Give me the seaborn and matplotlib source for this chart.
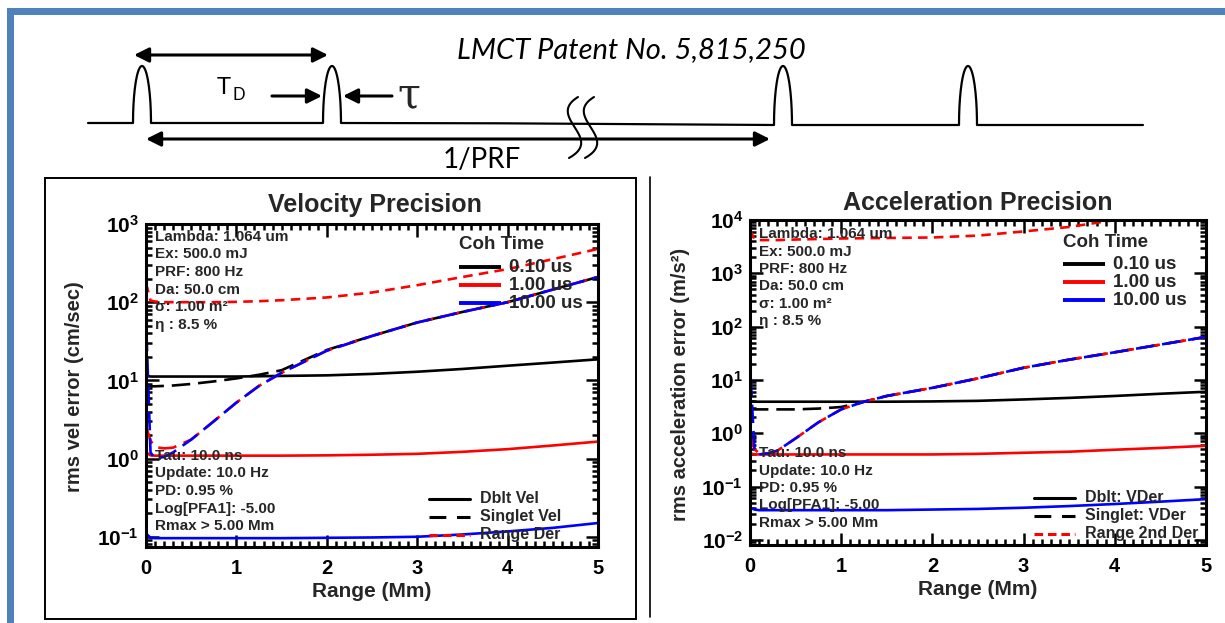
import numpy as np
import matplotlib
matplotlib.use("Agg")
import matplotlib.pyplot as plt
import seaborn as sns
from matplotlib.patches import Rectangle
from matplotlib.ticker import LogLocator, MultipleLocator, FuncFormatter, NullFormatter

# range grid (Mm)
rng = [0.0, 0.05, 0.1, 0.2, 0.3, 0.5, 0.75, 1.0, 1.25, 1.5, 2.0, 2.5, 3.0, 3.5, 4.0, 4.5, 5.0]

# velocity precision (cm/sec)
vel_dblt_01 = [11.5, 11.2, 11.2, 11.2, 11.2, 11.2, 11.2, 11.2, 11.3, 11.4, 11.6, 12.1, 12.9, 14.0, 15.4, 16.9, 18.6]
vel_dblt_1 = [1.2, 1.1, 1.09, 1.09, 1.09, 1.09, 1.09, 1.09, 1.09, 1.09, 1.1, 1.12, 1.15, 1.22, 1.32, 1.47, 1.65]
vel_dblt_10 = [0.11, 0.097, 0.096, 0.096, 0.096, 0.096, 0.096, 0.096, 0.096, 0.096, 0.097, 0.098, 0.1, 0.107, 0.117, 0.13, 0.15]
vel_sngl_01 = [9.0, 8.4, 8.4, 8.5, 8.6, 9.0, 9.7, 10.6, 11.8, 13.5, 24.5, 37, 55, 75, 100, 145, 210]
vel_sngl_1 = [2.6, 1.7, 1.4, 1.35, 1.38, 1.75, 3.0, 5.2, 8.5, 12.5, 24, 37, 55, 75, 100, 145, 210]
vel_sngl_10 = [60, 1.2, 1.0, 1.05, 1.2, 1.75, 3.0, 5.2, 8.5, 12.5, 24, 37, 55, 75, 100, 145, 210]
vel_rng_der = [175, 105, 102, 100, 100, 100, 100, 101, 103, 106, 115, 133, 165, 210, 265, 355, 480]

# acceleration precision (m/s^2)
acc_dblt_01 = [4.0, 3.9, 3.9, 3.9, 3.9, 3.9, 3.9, 3.9, 3.9, 3.9, 3.95, 4.05, 4.3, 4.6, 5.0, 5.5, 6.0]
acc_dblt_1 = [0.42, 0.40, 0.40, 0.40, 0.40, 0.40, 0.40, 0.40, 0.40, 0.40, 0.40, 0.41, 0.43, 0.45, 0.49, 0.53, 0.58]
acc_dblt_10 = [0.04, 0.037, 0.036, 0.036, 0.036, 0.036, 0.036, 0.036, 0.036, 0.036, 0.037, 0.038, 0.04, 0.043, 0.047, 0.052, 0.058]
acc_sngl_01 = [2.9, 2.8, 2.8, 2.8, 2.8, 2.8, 2.9, 3.1, 3.9, 5.0, 7.1, 10.7, 16.9, 24, 33, 46, 64]
acc_sngl_1 = [0.9, 0.5, 0.42, 0.42, 0.47, 0.8, 1.6, 2.8, 3.9, 5.0, 7.1, 10.7, 16.9, 24, 33, 46, 64]
acc_sngl_10 = [19, 0.45, 0.4, 0.42, 0.47, 0.8, 1.6, 2.8, 3.9, 5.0, 7.1, 10.7, 16.9, 24, 33, 46, 64]
acc_rng_2der = [6500, 4300, 4200, 4200, 4200, 4300, 4400, 4500, 4550, 4600, 4700, 5100, 6100, 7400, 10000, 14000, 19000]

info_top = ["Lambda: 1.064 um", "Ex: 500.0 mJ", "PRF: 800 Hz", "Da: 50.0 cm", "\u03c3: 1.00 m\u00b2", "\u03b7 : 8.5 %"]
info_bot = ["Tau: 10.0 ns", "Update: 10.0 Hz", "PD: 0.95 %", "Log[PFA1]: -5.00", "Rmax > 5.00 Mm"]
coh_labels = ["0.10 us", "1.00 us", "10.00 us"]
coh_colors = ["black", "#ff0000", "#0000ff"]
vel_styles = ["Dblt Vel", "Singlet Vel", "Range Der"]
acc_styles = ["Dblt: VDer", "Singlet: VDer", "Range 2nd Der"]

sns.set_style("ticks")
plt.rcParams["font.family"] = ["Liberation Sans", "DejaVu Sans"]
plt.rcParams["font.weight"] = "bold"
plt.rcParams["mathtext.fontset"] = "custom"
plt.rcParams["mathtext.bf"] = "Liberation Sans:bold"
plt.rcParams["mathtext.rm"] = "Liberation Sans:bold"

W, H = 1225, 623
fig = plt.figure(figsize=(12.25, 6.23), dpi=100)
fig.patch.set_facecolor("white")


def rect(x0, y0, x1, y1):
    return [x0 / W, 1 - y1 / H, (x1 - x0) / W, (y1 - y0) / H]


LONG = (0, (7, 3))
SHORT = (0, (3.6, 2.4))


def trace(ax, y, color, ls, lw=1.9):
    sns.lineplot(x=rng, y=y, ax=ax, color=color, linestyle=ls, linewidth=lw,
                 estimator=None, sort=False)


def style_axis(ax, ylo, yhi):
    ax.set_yscale("log")
    ax.set_xlim(0, 5)
    ax.set_ylim(ylo, yhi)
    ax.xaxis.set_major_locator(MultipleLocator(1))
    ax.xaxis.set_minor_locator(MultipleLocator(0.1))
    ax.yaxis.set_major_locator(LogLocator(base=10, numticks=20))
    ax.yaxis.set_minor_locator(LogLocator(base=10, subs=np.arange(2, 10), numticks=20))
    ax.yaxis.set_minor_formatter(NullFormatter())
    ax.yaxis.set_major_formatter(FuncFormatter(lambda v, p: r"$\mathbf{10^{%d}}$" % round(np.log10(v))))
    ax.tick_params(which="both", direction="in", top=True, right=True, width=1.8, colors="black")
    ax.tick_params(which="major", length=9)
    ax.tick_params(which="minor", length=4)
    ax.tick_params(axis="x", labelsize=14.5, pad=9)
    ax.tick_params(axis="y", labelsize=15, pad=5)
    for s in ax.spines.values():
        s.set_linewidth(2.2)
        s.set_color("black")
    ax.set_xlabel("")
    ax.set_ylabel("")


# velocity panel
axL = fig.add_axes(rect(146, 224, 598, 547))
trace(axL, vel_rng_der, coh_colors[1], SHORT)
trace(axL, vel_dblt_01, coh_colors[0], "-")
trace(axL, vel_sngl_01, coh_colors[0], LONG)
trace(axL, vel_dblt_1, coh_colors[1], "-")
trace(axL, vel_sngl_1, coh_colors[1], LONG)
trace(axL, vel_sngl_10, coh_colors[2], (5, (7, 3)))
trace(axL, vel_dblt_10, coh_colors[2], "-")
style_axis(axL, 0.074, 1000)

# acceleration panel
axR = fig.add_axes(rect(750, 220, 1206, 545))
trace(axR, acc_rng_2der, coh_colors[1], SHORT)
trace(axR, acc_dblt_01, coh_colors[0], "-")
trace(axR, acc_sngl_01, coh_colors[0], LONG)
trace(axR, acc_dblt_1, coh_colors[1], "-")
trace(axR, acc_sngl_1, coh_colors[1], LONG)
trace(axR, acc_sngl_10, coh_colors[2], (5, (7, 3)))
trace(axR, acc_dblt_10, coh_colors[2], "-")
style_axis(axR, 0.008, 1e4)

# overlay in pixel coordinates for diagram, labels and legends
ov = fig.add_axes([0, 0, 1, 1])
ov.set_xlim(0, W)
ov.set_ylim(H, 0)
ov.axis("off")
ov.set_zorder(10)

# blue frame and panel box
ov.add_patch(Rectangle((7, 8), W - 7, 7, color="#4F81BD", lw=0))
ov.add_patch(Rectangle((7, 8), 7, H - 8, color="#4F81BD", lw=0))
ov.add_patch(Rectangle((45, 178), 591, 441, fill=False, ec="black", lw=1.4))
ov.plot([650, 650], [177, 617], color="black", lw=1.2)


# pulse train
def pulse(c, base, w=18, top=66):
    t = np.linspace(np.pi, 0, 60)
    return list(c + w / 2 * np.cos(t)), list(base - (base - top) * np.sin(t))


px, py = [88], [123]
for c, b in [(142, 123), (332, 123), (783, 125), (968, 125)]:
    if c == 783:
        px.append(500)
        py.append(123.3)
    xs, ys = pulse(c, b)
    px += xs
    py += ys
px.append(1143)
py.append(125)
ov.plot(px, py, color="black", lw=1.6, solid_joinstyle="round")

# break marks
for dx in (0, 16):
    yy = np.array([97, 117, 137, 158])
    xx = np.array([578, 569, 580, 569]) + dx
    coef = np.polyfit(yy, xx, 3)
    ys = np.linspace(97, 158, 40)
    ov.plot(np.polyval(coef, ys), ys, color="black", lw=1.5)

arr = dict(color="black", lw=2.2, mutation_scale=22, shrinkA=0, shrinkB=0)
ov.annotate("", xy=(328, 55), xytext=(134, 55), arrowprops=dict(arrowstyle="<|-|>", **arr))
ov.annotate("", xy=(770, 139), xytext=(146, 139), arrowprops=dict(arrowstyle="<|-|>", **arr))
ov.annotate("", xy=(322, 96), xytext=(272, 96), arrowprops=dict(arrowstyle="-|>", **arr))
ov.annotate("", xy=(343, 96), xytext=(392, 96), arrowprops=dict(arrowstyle="-|>", **arr))

dia = dict(family=["Lato", "DejaVu Sans"], fontweight="normal", color="black")
ov.text(631, 58, "LMCT Patent No. 5,815,250", fontsize=21, style="italic", ha="center", va="baseline", **dia)
ov.text(217, 94, "T", fontsize=17, ha="left", va="baseline", **dia)
ov.text(233, 100, "D", fontsize=12, ha="left", va="baseline", **dia)
ov.text(409, 95, "\u03c4", fontsize=30, ha="center", va="center", family=["DejaVu Serif"], fontweight="normal")
ov.text(482, 168, "1/PRF", fontsize=20, ha="center", va="baseline", **dia)

# titles and axis labels
ov.text(375, 212, "Velocity Precision", fontsize=18, ha="center", va="baseline")
ov.text(978, 210, "Acceleration Precision", fontsize=18, ha="center", va="baseline")
ov.text(372, 597, "Range (Mm)", fontsize=15, ha="center", va="baseline")
ov.text(978, 595, "Range (Mm)", fontsize=15, ha="center", va="baseline")
ov.text(75, 387, "rms vel error (cm/sec)", fontsize=14.5, rotation=90, ha="center", va="center")
ov.text(680, 384, "rms acceleration error (m/s\u00b2)", fontsize=14.5, rotation=90, ha="center", va="center")

# parameter annotations
for x0, ytop, ybot in [(155, 241, 460), (759, 238, 457)]:
    for i, s in enumerate(info_top):
        ov.text(x0, ytop + i * 17.5, s, fontsize=11, ha="left", va="baseline")
    for i, s in enumerate(info_bot):
        ov.text(x0, ybot + i * 17.5, s, fontsize=11, ha="left", va="baseline")

# coherence-time legends
for x0, ytitle, yline in [(459, 249, 267), (1063, 247, 264)]:
    ov.text(x0, ytitle, "Coh Time", fontsize=13.5, ha="left", va="baseline")
    for i, (lab, col) in enumerate(zip(coh_labels, coh_colors)):
        y = yline + i * 18
        ov.plot([x0, x0 + 42], [y, y], color=col, lw=2.8, solid_capstyle="butt")
        ov.text(x0 + 50, y + 5, lab, fontsize=13.5, ha="left", va="baseline")

# line-style legends
for x0, yline, labels in [(429, 499, vel_styles), (1034, 498, acc_styles)]:
    for i, (lab, ls, col) in enumerate(zip(labels, ["-", (0, (5.5, 3.5)), (0, (2.8, 1.6))],
                                         ["black", "black", "#ff0000"])):
        y = yline + i * 18
        ov.plot([x0, x0 + 41], [y, y], color=col, lw=2.2, linestyle=ls, dash_capstyle="butt")
        ov.text(x0 + 51, y + 4, lab, fontsize=11.5, ha="left", va="baseline")

fig.savefig("out.png", dpi=100)
